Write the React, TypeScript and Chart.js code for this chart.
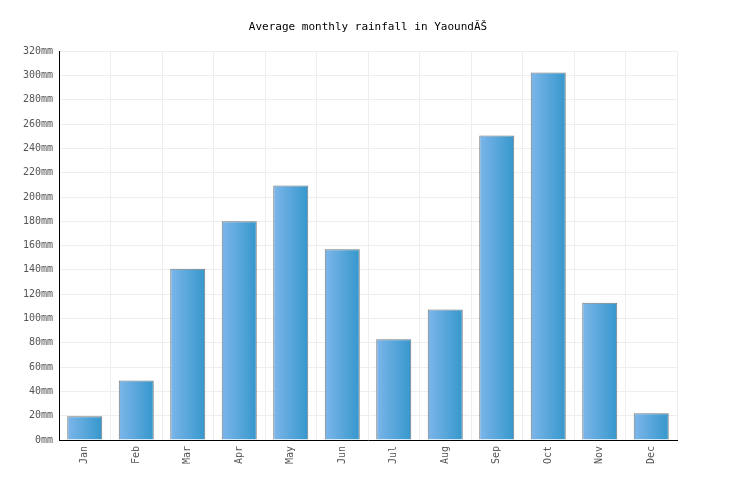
import React, { useEffect, useRef } from 'react';
import { Chart, registerables, ChartConfiguration } from 'chart.js';

Chart.register(...registerables);

const months: string[] = ['Jan', 'Feb', 'Mar', 'Apr', 'May', 'Jun', 'Jul', 'Aug', 'Sep', 'Oct', 'Nov', 'Dec'];
const rainfall: number[] = [19.5, 49, 141, 180, 209.5, 157, 83, 107.5, 250.6, 302.5, 113, 22];

const BAR_PCT = 0.68;
const FONT = "'DejaVu Sans Mono', monospace";

export default function App() {
  const chartRef = useRef<HTMLCanvasElement | null>(null);

  useEffect(() => {
    document.body.style.margin = '0';
    if (!chartRef.current) return;
    const ctx = chartRef.current.getContext('2d');
    if (!ctx) return;

    const config: ChartConfiguration<'bar', number[], string> = {
      type: 'bar',
      data: {
        labels: months,
        datasets: [
          {
            label: 'Rainfall',
            data: rainfall,
            // horizontal gradient across each bar, positioned from the x scale
            backgroundColor: (c: any) => {
              const chart = c.chart;
              if (!chart.chartArea || c.type !== 'data') return '#5aa6dd';
              const xs = chart.scales.x;
              const cx = xs.getPixelForValue(c.dataIndex);
              const half = ((xs.width / months.length) * BAR_PCT) / 2;
              const g = chart.ctx.createLinearGradient(cx - half, 0, cx + half, 0);
              g.addColorStop(0, '#7db6ea');
              g.addColorStop(1, '#3597cc');
              return g;
            },
            borderColor: '#787878',
            borderWidth: 1,
            barPercentage: BAR_PCT,
            categoryPercentage: 1,
          },
        ],
      },
      options: {
        responsive: false,
        animation: false,
        layout: { padding: 0 },
        plugins: {
          legend: { display: false },
          tooltip: { enabled: false },
          title: {
            display: true,
            text: 'Average monthly rainfall in YaoundĂŠ',
            color: '#000',
            font: { family: FONT, size: 11, weight: 'normal' },
            padding: { top: 21, bottom: 17 },
          },
        },
        scales: {
          x: {
            grid: { color: '#eeeeee', drawTicks: false },
            border: { color: '#000', width: 1 },
            ticks: {
              color: '#555',
              font: { family: FONT, size: 10 },
              minRotation: 90,
              maxRotation: 90,
              padding: 6,
            },
            afterFit: (s: any) => {
              s.height = 60;
            },
          },
          y: {
            min: 0,
            max: 320,
            grid: { color: '#eeeeee', drawTicks: false },
            border: { color: '#000', width: 1 },
            ticks: {
              stepSize: 20,
              color: '#555',
              font: { family: FONT, size: 10 },
              padding: 6,
              callback: (v: any) => v + 'mm',
            },
            afterFit: (s: any) => {
              s.width = 59;
            },
          },
          // empty right-hand gutter so the title stays centred on the page
          gutter: {
            type: 'linear',
            position: 'right',
            display: true,
            grid: { display: false },
            border: { display: false },
            ticks: { display: false },
            afterFit: (s: any) => {
              s.width = 59;
            },
          },
        },
      },
    };

    const chartInstance = new Chart(ctx, config);
    return () => {
      chartInstance.destroy();
    };
  }, []);

  return (
    <div style={{ width: 736, height: 500 }}>
      <canvas ref={chartRef} width={736} height={500} />
    </div>
  );
}
